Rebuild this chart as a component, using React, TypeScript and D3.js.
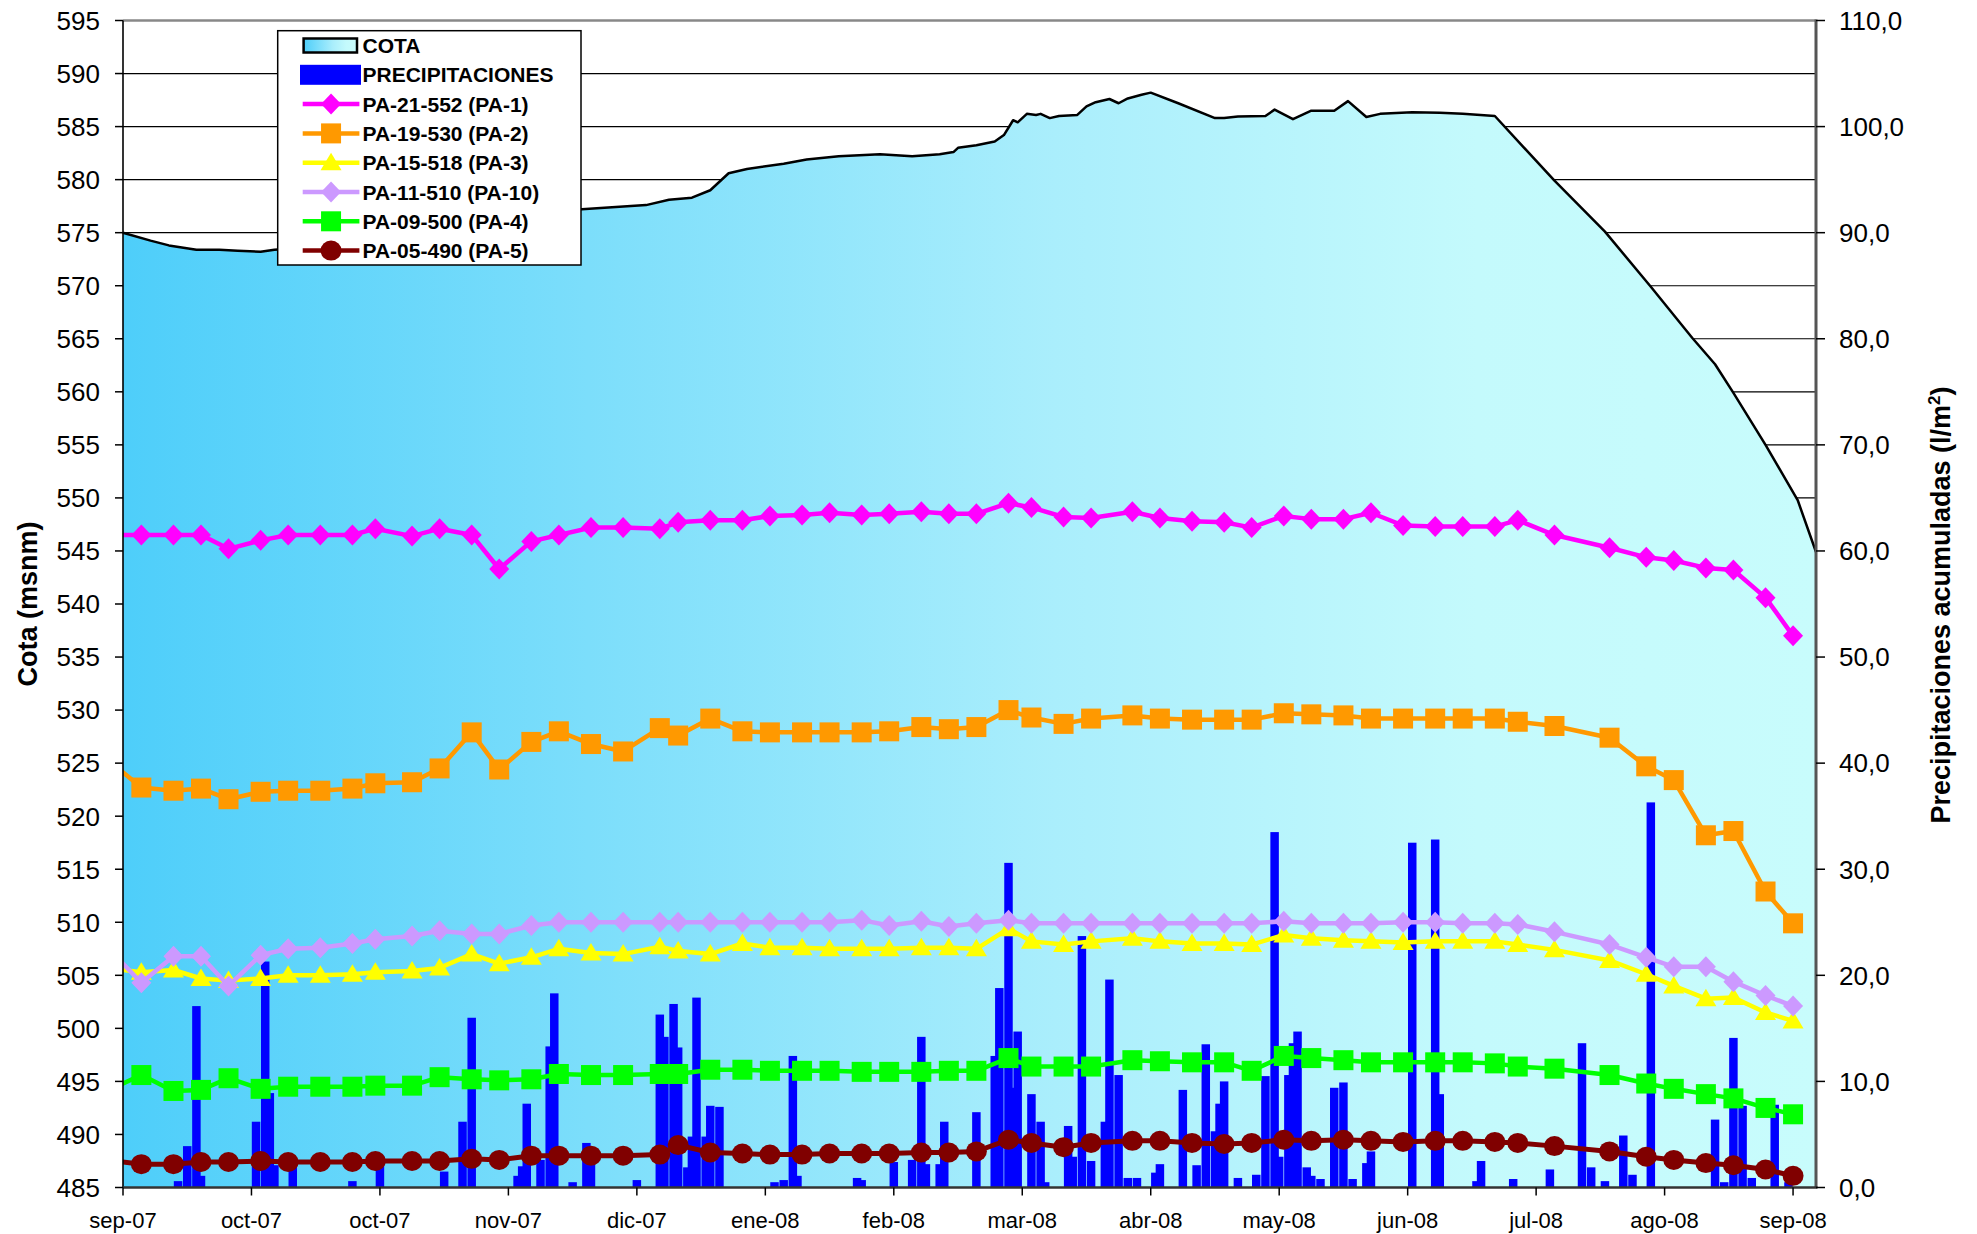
import React from "react";
import * as d3 from "d3";

// ---------------- DATA ----------------
const axisStart = "2007-09-05";
const axisEnd = "2008-09-08";
const tickStepDays = 28;
const xTickLabels = [
  "sep-07", "oct-07", "oct-07", "nov-07", "dic-07", "ene-08", "feb-08",
  "mar-08", "abr-08", "may-08", "jun-08", "jul-08", "ago-08", "sep-08",
];
const leftTicks = d3.range(485, 596, 5);
const rightTicks = d3.range(0, 111, 10);

// measurement dates (first one is a lead-in reading before the axis start)
const measureDates = [
  "2007-09-02",
  "2007-09-09", "2007-09-16", "2007-09-22", "2007-09-28", "2007-10-05", "2007-10-11", "2007-10-18", "2007-10-25", "2007-10-30",
  "2007-11-07", "2007-11-13", "2007-11-20", "2007-11-26", "2007-12-03", "2007-12-09", "2007-12-16", "2007-12-23", "2007-12-31",
  "2008-01-04", "2008-01-11", "2008-01-18", "2008-01-24", "2008-01-31", "2008-02-06", "2008-02-13", "2008-02-19", "2008-02-26",
  "2008-03-03", "2008-03-09", "2008-03-16", "2008-03-21", "2008-03-28", "2008-04-03", "2008-04-12", "2008-04-18", "2008-04-25",
  "2008-05-02", "2008-05-08", "2008-05-15", "2008-05-21", "2008-05-28", "2008-06-03", "2008-06-10", "2008-06-17", "2008-06-23",
  "2008-06-30", "2008-07-05", "2008-07-13", "2008-07-25", "2008-08-02", "2008-08-08", "2008-08-15", "2008-08-21", "2008-08-28", "2008-09-03",
];

const pa1 = [546.5, 546.5, 546.5, 546.5, 545.2, 546.0, 546.5, 546.5, 546.5, 547.1, 546.4, 547.1, 546.5, 543.3, 545.9, 546.5, 547.2, 547.2, 547.1, 547.7, 547.9, 547.9, 548.3, 548.4, 548.6, 548.4, 548.5, 548.7, 548.5,
  548.5, 549.5, 549.1, 548.2, 548.1, 548.7, 548.1, 547.8, 547.7, 547.2, 548.3, 548.0, 548.0, 548.6, 547.4, 547.3, 547.3, 547.3, 547.9, 546.5, 545.3, 544.4, 544.1, 543.4, 543.2, 540.6, 537.0];
const pa2 = [525.2, 522.7, 522.4, 522.6, 521.6, 522.3, 522.4, 522.4, 522.6, 523.1, 523.2, 524.5, 527.9, 524.4, 527.0, 528.0, 526.8, 526.1, 528.3, 527.6, 529.2, 528.0, 527.9, 527.9, 527.9, 527.9, 528.0, 528.4, 528.2,
  528.4, 530.0, 529.3, 528.7, 529.2, 529.5, 529.2, 529.1, 529.1, 529.1, 529.7, 529.6, 529.5, 529.2, 529.2, 529.2, 529.2, 529.2, 528.9, 528.5, 527.4, 524.7, 523.4, 518.2, 518.6, 512.9, 509.9];
const pa3 = [505.65, 505.3, 505.5, 504.7, 504.5, 504.7, 505.0, 505.0, 505.1, 505.3, 505.4, 505.7, 507.0, 506.1, 506.7, 507.5, 507.1, 507.0, 507.7, 507.3, 507.0, 508.0, 507.6, 507.6, 507.5, 507.5, 507.5, 507.6, 507.6,
  507.5, 509.4, 508.2, 507.9, 508.2, 508.5, 508.2, 508.0, 508.0, 507.9, 508.8, 508.5, 508.3, 508.2, 508.1, 508.2, 508.2, 508.2, 507.9, 507.4, 506.4, 505.1, 504.0, 502.8, 502.9, 501.5, 500.7];
const pa10 = [507.45, 504.3, 506.8, 506.8, 504.0, 506.9, 507.5, 507.6, 508.0, 508.4, 508.7, 509.2, 508.9, 508.9, 509.7, 510.0, 510.0, 510.0, 510.0, 510.0, 510.0, 510.0, 510.0, 510.0, 510.0, 510.2, 509.7, 510.1, 509.6,
  509.9, 510.2, 509.9, 509.9, 509.9, 509.9, 509.9, 509.9, 509.9, 509.9, 510.1, 509.9, 509.9, 509.9, 510.0, 510.0, 509.9, 509.9, 509.8, 509.1, 507.9, 506.7, 505.8, 505.8, 504.4, 503.1, 502.1];
const pa4 = [494.2, 495.6, 494.1, 494.2, 495.3, 494.3, 494.5, 494.5, 494.5, 494.6, 494.6, 495.4, 495.2, 495.1, 495.2, 495.7, 495.6, 495.6, 495.7, 495.7, 496.1, 496.1, 496.0, 496.0, 496.0, 495.9, 495.9, 495.9, 496.0,
  496.0, 497.2, 496.4, 496.4, 496.4, 497.0, 496.9, 496.8, 496.8, 496.0, 497.4, 497.2, 497.0, 496.8, 496.8, 496.8, 496.8, 496.7, 496.4, 496.2, 495.6, 494.8, 494.3, 493.8, 493.4, 492.5, 491.9];
const pa5 = [487.55, 487.2, 487.2, 487.4, 487.4, 487.5, 487.4, 487.4, 487.4, 487.5, 487.5, 487.5, 487.7, 487.6, 488.0, 488.0, 488.0, 488.0, 488.1, 489.0, 488.3, 488.2, 488.1, 488.1, 488.2, 488.2, 488.2, 488.3, 488.3,
  488.4, 489.5, 489.2, 488.8, 489.2, 489.4, 489.4, 489.2, 489.1, 489.2, 489.5, 489.4, 489.5, 489.4, 489.3, 489.4, 489.4, 489.3, 489.2, 488.9, 488.4, 487.9, 487.6, 487.3, 487.1, 486.7, 486.1];

// reservoir level (COTA)
const cotaDates = [
  "2007-09-05", "2007-09-11", "2007-09-15", "2007-09-21", "2007-09-26", "2007-09-30", "2007-10-05", "2007-10-08", "2007-10-15", "2007-10-25",
  "2007-11-04", "2007-11-14", "2007-11-24", "2007-12-14", "2007-12-28", "2008-01-02", "2008-01-07", "2008-01-11", "2008-01-13", "2008-01-15",
  "2008-01-19", "2008-01-27", "2008-02-01", "2008-02-08", "2008-02-17", "2008-02-24", "2008-03-01", "2008-03-04", "2008-03-05", "2008-03-09",
  "2008-03-13", "2008-03-15", "2008-03-17", "2008-03-18", "2008-03-20", "2008-03-22", "2008-03-23", "2008-03-25", "2008-03-27", "2008-03-31",
  "2008-04-02", "2008-04-04", "2008-04-07", "2008-04-09", "2008-04-11", "2008-04-14", "2008-04-16", "2008-04-22", "2008-04-30", "2008-05-02",
  "2008-05-05", "2008-05-11", "2008-05-13", "2008-05-17", "2008-05-21", "2008-05-26", "2008-05-29", "2008-06-02", "2008-06-05", "2008-06-12",
  "2008-06-18", "2008-06-23", "2008-06-30", "2008-07-13", "2008-07-24", "2008-08-03", "2008-08-12", "2008-08-17", "2008-08-21", "2008-08-28",
  "2008-09-04", "2008-09-08",
];
const cotaValues = [
  575.0, 574.25, 573.8, 573.4, 573.4, 573.3, 573.2, 573.4, 573.6, 574.2,
  575.0, 576.0, 576.7, 577.2, 577.6, 578.1, 578.3, 579.0, 579.8, 580.6,
  581.0, 581.5, 581.9, 582.2, 582.4, 582.2, 582.4, 582.6, 583.0, 583.25,
  583.6, 584.2, 585.6, 585.4, 586.2, 586.1, 586.2, 585.8, 586.0, 586.1,
  586.9, 587.3, 587.6, 587.2, 587.65, 588.0, 588.2, 587.2, 585.8, 585.8,
  585.95, 586.0, 586.6, 585.7, 586.5, 586.5, 587.4, 585.9, 586.2, 586.35,
  586.3, 586.2, 586.0, 579.9, 575.1, 569.9, 565.1, 562.6, 559.9, 555.0,
  549.8, 544.9,
];

// daily precipitation (l/m2)
const precipDates = [
  "2007-09-17", "2007-09-19", "2007-09-21", "2007-09-22", "2007-10-04", "2007-10-06", "2007-10-07", "2007-10-08", "2007-10-12", "2007-10-25",
  "2007-10-31", "2007-11-14", "2007-11-18", "2007-11-20", "2007-11-30", "2007-12-01", "2007-12-02", "2007-12-05", "2007-12-07", "2007-12-08",
  "2007-12-12", "2007-12-15", "2007-12-16", "2007-12-26", "2007-12-31", "2008-01-01", "2008-01-03", "2008-01-04", "2008-01-06", "2008-01-07",
  "2008-01-08", "2008-01-10", "2008-01-11", "2008-01-13", "2008-01-25", "2008-01-27", "2008-01-29", "2008-01-30", "2008-02-12", "2008-02-13",
  "2008-02-20", "2008-02-24", "2008-02-26", "2008-02-27", "2008-03-01", "2008-03-02", "2008-03-09", "2008-03-13", "2008-03-14", "2008-03-16",
  "2008-03-17", "2008-03-18", "2008-03-21", "2008-03-23", "2008-03-24", "2008-03-29", "2008-03-30", "2008-04-01", "2008-04-03", "2008-04-06",
  "2008-04-07", "2008-04-09", "2008-04-11", "2008-04-13", "2008-04-17", "2008-04-18", "2008-04-23", "2008-04-26", "2008-04-28", "2008-04-30",
  "2008-05-01", "2008-05-02", "2008-05-05", "2008-05-09", "2008-05-11", "2008-05-13", "2008-05-14", "2008-05-16", "2008-05-17", "2008-05-18",
  "2008-05-20", "2008-05-21", "2008-05-23", "2008-05-26", "2008-05-28", "2008-05-30", "2008-06-02", "2008-06-03", "2008-06-12", "2008-06-17",
  "2008-06-18", "2008-06-26", "2008-06-27", "2008-07-04", "2008-07-12", "2008-07-19", "2008-07-21", "2008-07-24", "2008-07-28", "2008-07-30",
  "2008-08-03", "2008-08-17", "2008-08-19", "2008-08-21", "2008-08-23", "2008-08-25", "2008-08-30", "2008-09-02",
];
const precipValues = [
  0.6, 3.9, 17.1, 1.1, 6.2, 21.3, 8.9, 2.1, 2.2, 0.6,
  3.0, 1.5, 6.2, 16.0, 1.1, 2.0, 7.9, 2.6, 13.3, 18.3,
  0.5, 4.2, 2.2, 0.7, 16.3, 14.2, 17.3, 13.2, 1.9, 4.8,
  17.9, 4.8, 7.7, 7.6, 0.5, 0.7, 12.4, 1.1, 0.9, 0.7,
  2.4, 2.6, 14.2, 2.2, 2.2, 6.2, 7.1, 12.4, 18.8, 30.6,
  9.4, 14.7, 8.8, 6.2, 0.5, 5.8, 2.9, 23.7, 2.5, 6.2,
  19.6, 10.6, 0.9, 0.9, 1.4, 2.2, 9.2, 2.1, 13.5, 5.3,
  7.9, 10.0, 0.9, 1.2, 10.5, 33.5, 2.9, 10.6, 13.6, 14.7,
  1.9, 1.1, 0.8, 9.4, 9.9, 0.8, 2.3, 3.4, 32.5, 32.8,
  8.8, 0.6, 2.5, 0.8, 1.7, 13.6, 1.9, 0.6, 4.9, 1.2,
  36.3, 6.4, 0.5, 14.1, 7.7, 0.9, 7.8, 0.5,
];

const seriesNames = ["PA-21-552 (PA-1)", "PA-19-530 (PA-2)", "PA-15-518 (PA-3)", "PA-11-510 (PA-10)", "PA-09-500 (PA-4)", "PA-05-490 (PA-5)"];
const seriesValues = [pa1, pa2, pa3, pa10, pa4, pa5];
const seriesColors = ["#FF00FF", "#FF9900", "#FFFF00", "#CC99FF", "#00FF00", "#800000"];
const seriesShapes = ["diamond", "square", "triangle", "diamond", "square", "circle"];

const cotaLabel = "COTA";
const precipLabel = "PRECIPITACIONES";
const leftTitle = "Cota (msnm)";
const rightTitle = "Precipitaciones acumuladas (l/m";

// ---------------- LAYOUT ----------------
const W = 1977;
const H = 1234;
const PL = 123, PR = 1816, PT = 20.5, PB = 1187.5;
const FONT = "'Liberation Sans', Arial, Helvetica, sans-serif";

const parse = d3.utcParse("%Y-%m-%d");
const x = d3.scaleUtc().domain([parse(axisStart)!, parse(axisEnd)!]).range([PL, PR]);
const yL = d3.scaleLinear().domain([485, 595]).range([PB, PT]);
const yR = d3.scaleLinear().domain([0, 110]).range([PB, PT]);
const fmtR = (v: number) => d3.format(".1f")(v).replace(".", ",");

function Marker({ shape, cx, cy, color }: { shape: string; cx: number; cy: number; color: string }) {
  if (shape === "diamond")
    return <path d={`M${cx},${cy - 10.5}L${cx + 10},${cy}L${cx},${cy + 10.5}L${cx - 10},${cy}Z`} fill={color} />;
  if (shape === "square") return <rect x={cx - 10} y={cy - 10} width={20} height={20} fill={color} />;
  if (shape === "triangle")
    return <path d={`M${cx},${cy - 10}L${cx + 10.5},${cy + 7.5}L${cx - 10.5},${cy + 7.5}Z`} fill={color} />;
  return <ellipse cx={cx} cy={cy} rx={10.5} ry={10} fill={color} />;
}

export default function App() {
  const start = parse(axisStart)!;
  const xTicks = xTickLabels.map((_, i) => d3.utcDay.offset(start, i * tickStepDays));
  const dayPx = x(d3.utcDay.offset(start, 1)) - x(start);
  const barW = dayPx * 1.85;

  const cota = cotaDates.map((d, i) => ({ t: parse(d)!, v: cotaValues[i] }));
  const area = d3.area<{ t: Date; v: number }>().x((d) => x(d.t)).y0(yL(485)).y1((d) => yL(d.v));
  const cline = d3.line<{ t: Date; v: number }>().x((d) => x(d.t)).y((d) => yL(d.v));
  const mDates = measureDates.map((d) => parse(d)!);
  const sline = d3.line<number>().x((_, i) => x(mDates[i])).y((v) => yL(v));

  const legX = 277.7, legY = 30.7, legW = 303.3, legH = 234.3;
  const legRow0 = 45.5, legStep = 29.3;
  const legSymL = 302.7, legSymR = 359.4, legText = 362.5;

  return (
    <svg width={W} height={H} style={{ position: "absolute", left: 0, top: 0, display: "block", background: "#fff" }} fontFamily={FONT}>
      <defs>
        <linearGradient id="cotaGrad" x1="0" x2="1" y1="0" y2="0">
          <stop offset="0" stopColor="rgb(78,206,250)" />
          <stop offset="0.55" stopColor="rgb(170,238,252)" />
          <stop offset="0.8" stopColor="rgb(196,250,252)" />
          <stop offset="1" stopColor="rgb(200,252,252)" />
        </linearGradient>
        <clipPath id="plotClip">
          <rect x={PL} y={PT} width={PR - PL} height={PB - PT} />
        </clipPath>
      </defs>

      {/* gridlines */}
      {leftTicks.map((t) => (
        <line key={"g" + t} x1={PL} x2={PR} y1={yL(t)} y2={yL(t)} stroke="#000" strokeWidth={1.2} />
      ))}
      <line x1={PL} x2={PR} y1={PT} y2={PT} stroke="#888" strokeWidth={2.5} />

      {/* COTA area */}
      <path d={area(cota)!} fill="url(#cotaGrad)" />
      <path d={cline(cota)!} fill="none" stroke="#000" strokeWidth={2.5} strokeLinejoin="round" />

      {/* precipitation bars */}
      <g clipPath="url(#plotClip)">
        {precipDates.map((d, i) => {
          const cx = x(parse(d)!);
          return (
            <rect key={"b" + i} x={cx - barW / 2} y={yR(precipValues[i])} width={barW}
              height={yR(0) - yR(precipValues[i])} fill="#0000FF" />
          );
        })}
      </g>

      {/* piezometer series */}
      <g clipPath="url(#plotClip)">
        {seriesValues.map((vals, s) => (
          <g key={"s" + s}>
            <path d={sline(vals)!} fill="none" stroke={seriesColors[s]} strokeWidth={s === 5 ? 5 : 4.5} strokeLinejoin="round" />
            {vals.map((v, i) => (
              <Marker key={i} shape={seriesShapes[s]} cx={x(mDates[i])} cy={yL(v)} color={seriesColors[s]} />
            ))}
          </g>
        ))}
      </g>

      {/* axes */}
      <line x1={PL} x2={PL} y1={PT} y2={PB} stroke="#000" strokeWidth={1.6} />
      <line x1={PR} x2={PR} y1={PT - 1} y2={PB} stroke="#555" strokeWidth={3} />
      <line x1={PL} x2={PR + 1.5} y1={PB} y2={PB} stroke="#333" strokeWidth={2.5} />

      {leftTicks.map((t) => (
        <g key={"lt" + t}>
          <line x1={PL - 8} x2={PL} y1={yL(t)} y2={yL(t)} stroke="#000" strokeWidth={1.5} />
          <text x={100} y={yL(t)} dy="0.36em" textAnchor="end" fontSize={26} fill="#000">{t}</text>
        </g>
      ))}
      {rightTicks.map((t) => (
        <g key={"rt" + t}>
          <line x1={PR} x2={PR + 9} y1={yR(t)} y2={yR(t)} stroke="#000" strokeWidth={1.5} />
          <text x={1839} y={yR(t)} dy="0.36em" textAnchor="start" fontSize={26} fill="#000">{fmtR(t)}</text>
        </g>
      ))}
      {xTicks.map((t, i) => (
        <g key={"xt" + i}>
          <line x1={x(t)} x2={x(t)} y1={PB} y2={PB + 8} stroke="#000" strokeWidth={1.5} />
          <text x={x(t)} y={1228} textAnchor="middle" fontSize={22} fill="#000">{xTickLabels[i]}</text>
        </g>
      ))}

      {/* axis titles */}
      <text transform="translate(37,604) rotate(-90)" textAnchor="middle" fontSize={27} fontWeight="bold">{leftTitle}</text>
      <text transform="translate(1950,605) rotate(-90)" textAnchor="middle" fontSize={27} fontWeight="bold">
        {rightTitle}
        <tspan fontSize={17} dy={-10}>2</tspan>
        <tspan dy={10}>)</tspan>
      </text>

      {/* legend */}
      <rect x={legX} y={legY} width={legW} height={legH} fill="#fff" stroke="#000" strokeWidth={1.5} />
      <rect x={303.6} y={legRow0 - 7} width={53.4} height={14} fill="url(#cotaGrad)" stroke="#000" strokeWidth={2.5} />
      <text x={legText} y={legRow0} dy="0.36em" fontSize={21} fontWeight="bold">{cotaLabel}</text>
      <rect x={300} y={legRow0 + legStep - 10} width={61} height={20} fill="#0000FF" />
      <text x={legText} y={legRow0 + legStep} dy="0.36em" fontSize={21} fontWeight="bold">{precipLabel}</text>
      {seriesNames.map((n, s) => {
        const cy = legRow0 + legStep * (s + 2);
        return (
          <g key={"l" + s}>
            <line x1={legSymL} x2={legSymR} y1={cy} y2={cy} stroke={seriesColors[s]} strokeWidth={4.5} />
            <Marker shape={seriesShapes[s]} cx={(legSymL + legSymR) / 2} cy={cy} color={seriesColors[s]} />
            <text x={legText} y={cy} dy="0.36em" fontSize={21} fontWeight="bold">{n}</text>
          </g>
        );
      })}
    </svg>
  );
}
